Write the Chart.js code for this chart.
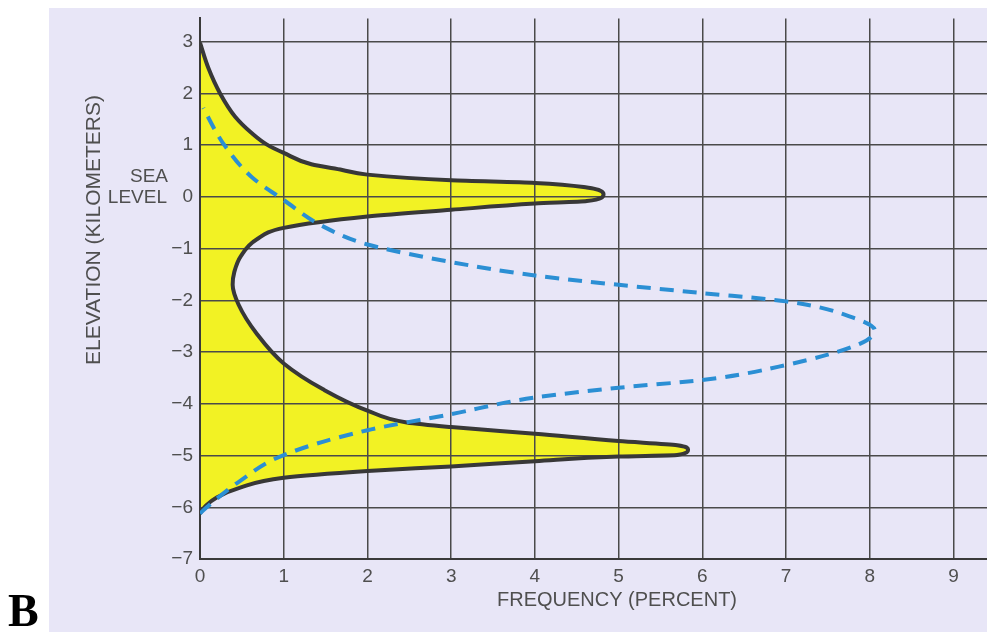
<!DOCTYPE html>
<html>
<head>
<meta charset="utf-8">
<script src="https://cdn.jsdelivr.net/npm/chart.js@4"></script>
<style>
  html, body { margin: 0; padding: 0; background: #ffffff; }
  body { width: 987px; height: 632px; position: relative; overflow: hidden; }
  #panel { position: absolute; left: 49px; top: 8px; width: 938px; height: 624px; background: #e8e6f7; }
  #wrap { position: absolute; left: 0; top: 0; width: 987px; height: 632px; }
  #letter { position: absolute; left: 8px; top: 588px; font-family: "Liberation Serif", "DejaVu Serif", serif; font-weight: bold; font-size: 46px; line-height: 46px; color: #000; }
</style>
</head>
<body>
<div id="panel"></div>
<div id="wrap"><canvas id="c" width="987" height="632"></canvas></div>
<div id="letter">B</div>
<script>
// ---- data ----
const landElevation = [-6.12, -5.97, -5.81, -5.62, -5.43, -5.30, -5.21, -5.11, -5.02, -4.99, -4.89, -4.80, -4.72, -4.58, -4.45, -4.36, -4.13, -3.72, -3.22, -2.65, -2.08, -1.70, -1.45, -1.14, -0.82, -0.60, -0.38, -0.25, -0.13, -0.08, 0.05, 0.18, 0.27, 0.32, 0.43, 0.52, 0.63, 0.85, 1.01, 1.23, 1.55, 2.00, 2.49, 2.98];
const landFrequency = [0, 0.07, 0.20, 0.48, 1.00, 2.00, 3.00, 4.00, 5.00, 5.70, 5.83, 5.70, 5.00, 4.00, 3.00, 2.47, 2.00, 1.47, 1.00, 0.68, 0.46, 0.39, 0.41, 0.49, 0.68, 1.00, 2.00, 3.00, 4.00, 4.62, 4.82, 4.62, 4.00, 3.00, 2.00, 1.70, 1.33, 1.00, 0.80, 0.62, 0.42, 0.24, 0.10, 0];

const dashedElevation = [-6.12, -6.00, -5.49, -4.99, -4.51, -4.20, -3.88, -3.69, -3.54, -3.25, -2.84, -2.58, -2.34, -2.02, -1.86, -1.70, -1.52, -1.26, -0.92, -0.57, -0.06, 0.38, 0.98, 1.29, 1.72];
const dashedFrequency = [0, 0.08, 0.48, 1.00, 2.00, 3.00, 4.00, 5.00, 6.00, 7.00, 7.88, 8.06, 7.81, 7.00, 6.00, 5.00, 4.00, 3.00, 2.00, 1.47, 1.00, 0.62, 0.30, 0.18, 0.04];

const xTicks = [0, 1, 2, 3, 4, 5, 6, 7, 8, 9];
const xTickLabels = ['0', '1', '2', '3', '4', '5', '6', '7', '8', '9'];
const yTicks = [-7, -6, -5, -4, -3, -2, -1, 0, 1, 2, 3];
const yTickLabels = ['\u22127', '\u22126', '\u22125', '\u22124', '\u22123', '\u22122', '\u22121', '0', '1', '2', '3'];

const xTitle = 'FREQUENCY (PERCENT)';
const yTitle = 'ELEVATION (KILOMETERS)';
const seaLevelLines = ['SEA', 'LEVEL'];

// ---- build ----
const toPoints = (xs, ys) => ys.map((y, i) => ({ x: xs[i], y: y }));
const FONT = '"Liberation Sans", Arial, Helvetica, sans-serif';
const TXT = '#4f4f4f';
const GRID = '#4a4a4a';

const textPlugin = {
  id: 'extraText',
  afterDraw(chart) {
    const ctx = chart.ctx;
    const ys = chart.scales.y;
    const y0 = ys.getPixelForValue(0);
    ctx.save();
    ctx.fillStyle = TXT;
    ctx.font = '19px ' + FONT;
    ctx.textAlign = 'right';
    ctx.textBaseline = 'middle';
    ctx.fillText(seaLevelLines[0], 168, y0 - 20);
    ctx.fillText(seaLevelLines[1], 167, y0 + 1);
    ctx.font = '20px ' + FONT;
    ctx.textAlign = 'center';
    ctx.fillText(xTitle, 617, 600);
    ctx.font = '21px ' + FONT;
    ctx.translate(94, 230);
    ctx.rotate(-Math.PI / 2);
    ctx.fillText(yTitle, 0, 0);
    ctx.restore();
  }
};

new Chart(document.getElementById('c'), {
  type: 'line',
  data: {
    datasets: [
      {
        label: 'dashed',
        data: toPoints(dashedFrequency, dashedElevation),
        borderColor: '#2b8fd4',
        borderWidth: 4,
        borderDash: [14, 9],
        pointRadius: 0,
        fill: false,
        cubicInterpolationMode: 'monotone',
        order: 0
      },
      {
        label: 'land',
        data: toPoints(landFrequency, landElevation),
        borderColor: '#383838',
        borderWidth: 4,
        backgroundColor: '#f2f224',
        pointRadius: 0,
        fill: 'origin',
        cubicInterpolationMode: 'monotone',
        order: 1
      }
    ]
  },
  plugins: [textPlugin],
  options: {
    indexAxis: 'y',
    responsive: false,
    animation: false,
    layout: { padding: { top: 8, left: 0, right: 0, bottom: 0 } },
    plugins: {
      legend: { display: false },
      tooltip: { enabled: false },
      filler: { drawTime: 'beforeDraw' }
    },
    scales: {
      x: {
        type: 'linear',
        position: 'bottom',
        min: 0,
        max: 9.4,
        afterBuildTicks: s => { s.ticks = xTicks.map(v => ({ value: v })); },
        afterFit: s => { s.height = 73; },
        grid: { color: GRID, lineWidth: 1.5, drawTicks: false },
        border: { color: '#3a3a3a', width: 2 },
        ticks: {
          padding: 6,
          color: TXT,
          font: { size: 19, family: FONT },
          maxRotation: 0,
          autoSkip: false,
          callback: (v) => xTickLabels[xTicks.indexOf(v)]
        }
      },
      y: {
        type: 'linear',
        position: 'left',
        min: -7,
        max: 3.45,
        afterBuildTicks: s => { s.ticks = yTicks.map(v => ({ value: v })); },
        afterFit: s => { s.width = 200; },
        grid: { color: GRID, lineWidth: 1.5, drawTicks: false },
        border: { color: '#3a3a3a', width: 2 },
        ticks: {
          padding: 7,
          color: TXT,
          font: { size: 19, family: FONT },
          autoSkip: false,
          callback: (v) => yTickLabels[yTicks.indexOf(v)]
        }
      }
    }
  }
});
</script>
</body>
</html>
